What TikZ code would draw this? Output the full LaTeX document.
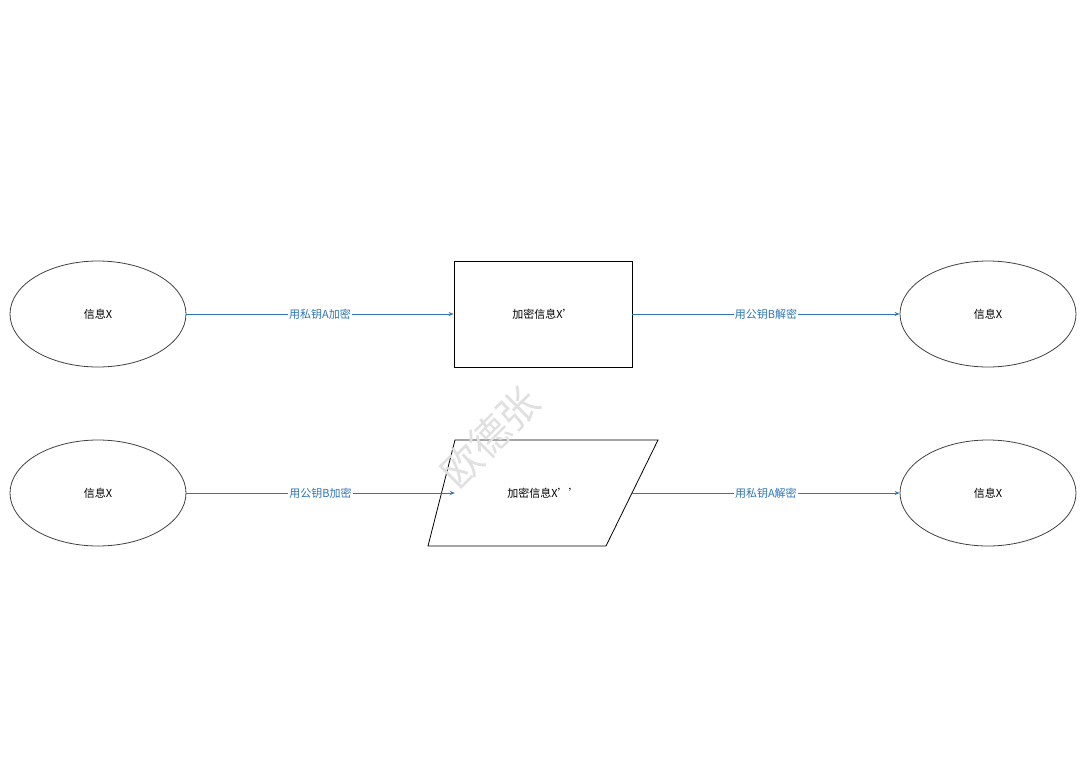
\documentclass[tikz,border=0pt]{standalone}
\usepackage{xcolor}
\usepackage{fontspec}
\setmainfont{Noto Sans CJK SC}
\usetikzlibrary{shapes.geometric,arrows.meta}
\definecolor{linkblue}{RGB}{46,117,182}
\tikzset{
  msg/.style={ellipse,draw=black!75,line width=0.8pt,minimum width=176pt,minimum height=106pt,inner sep=0pt,font=\fontsize{11}{13}\selectfont},
  link/.style={draw=linkblue,line width=0.8pt,-{Stealth[length=5pt,width=4pt]}},
  linklabel/.style={fill=white,inner sep=1pt,text=linkblue,font=\fontsize{11}{13}\selectfont}
}
\begin{document}
\begin{tikzpicture}[x=1pt,y=1pt,yscale=-1,xscale=1]
\useasboundingbox (0,0) rectangle (1080,764);

% bottom row
\node[msg] (srcB) at (98,493) {信息X};
\coordinate (p1) at (455,440);
\coordinate (p2) at (658,440);
\coordinate (p3) at (606,546);
\coordinate (p4) at (428,546);
\draw[fill=white,line width=0.8pt] (p1) -- (p2) -- (p3) -- (p4) -- cycle;

% watermark
\node[rotate=45,text=black!12,font=\fontsize{40}{40}\selectfont,anchor=west] (mark) at (445,482) {欧德张};

\node[font=\fontsize{11}{13}\selectfont,inner sep=0pt,minimum width=177pt] (encB) at (543.5,493) {加密信息X’’};
\node[msg] (dstB) at (988,493) {信息X};
\draw[link] (srcB) -- node[linklabel] {用公钥B加密} (encB);
\draw[link] (encB) -- node[linklabel] {用私钥A解密} (dstB);

% top row
\node[msg] (srcA) at (98,314) {信息X};
\node[draw,fill=white,line width=0.8pt,minimum width=178pt,minimum height=106pt,font=\fontsize{11}{13}\selectfont] (encA) at (543,314) {加密信息X’};
\node[msg] (dstA) at (988,314) {信息X};
\draw[link] (srcA) -- node[linklabel] {用私钥A加密} (encA);
\draw[link] (encA) -- node[linklabel] {用公钥B解密} (dstA);

\end{tikzpicture}
\end{document}
